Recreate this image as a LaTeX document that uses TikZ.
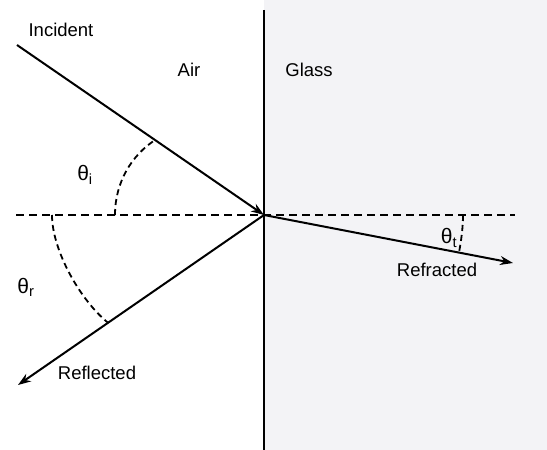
\documentclass[tikz,border=0pt]{standalone}
\usepackage{fontspec}
\setmainfont{Liberation Sans}
\usetikzlibrary{arrows.meta,calc}
\definecolor{glass}{RGB}{243,243,246}
\begin{document}
\begin{tikzpicture}[x=1pt,y=1pt,
  ray/.style={line width=2pt, -{Stealth[length=13pt,width=9pt]}},
  normalline/.style={line width=1.8pt, dash pattern=on 8pt off 5pt},
  anglearc/.style={line width=1.8pt, dash pattern=on 6pt off 4pt},
  lbl/.style={font=\fontsize{18.5}{22}\selectfont, inner sep=0pt},
  theta/.style={font=\fontsize{21}{24}\selectfont, inner sep=0pt}]
\useasboundingbox (0,0) rectangle (547,450);
\fill[glass] (264,0) rectangle (547,450);
\coordinate (O) at (264,235);
\coordinate (I) at (17,405);
\coordinate (R) at (18,65);
\coordinate (T) at (513,187);
\coordinate (NL) at (16,235);
\coordinate (NR) at (515,235);
\coordinate (Top) at (264,440);
\coordinate (Bot) at (264,0);
\draw[line width=2.2pt] (Top) -- (Bot);
\draw[normalline] (NL) -- (NR);
\draw[ray] (I) -- (O);
\draw[ray] (O) -- (R);
\draw[ray] (O) -- (T);
\coordinate (ai) at ($(O)!0.441!(I)$);
\coordinate (ar) at ($(O)!0.634!(R)$);
\coordinate (at) at ($(O)!0.783!(T)$);
\coordinate (si) at (115,235);
\coordinate (sr) at (52,235);
\coordinate (st) at (463,235);
\draw[anglearc] (si) .. controls (115,268) and (132,295) .. (ai);
\draw[anglearc] (sr) .. controls (52,200) and (80,150) .. (ar);
\draw[anglearc] (st) .. controls (463,222) and (461,208) .. (at);
\node[lbl] (inc) at (61,420) {Incident};
\node[lbl] (air) at (189,380) {Air};
\node[lbl] (gls) at (309,380) {Glass};
\node[theta] (ti) at (85,275) {θ\textsubscript{i}};
\node[theta] (tr) at (26,163) {θ\textsubscript{r}};
\node[theta] (tt) at (449,212) {θ\textsubscript{t}};
\node[lbl] (refr) at (437,180) {Refracted};
\node[lbl] (refl) at (97,77) {Reflected};
\end{tikzpicture}
\end{document}
